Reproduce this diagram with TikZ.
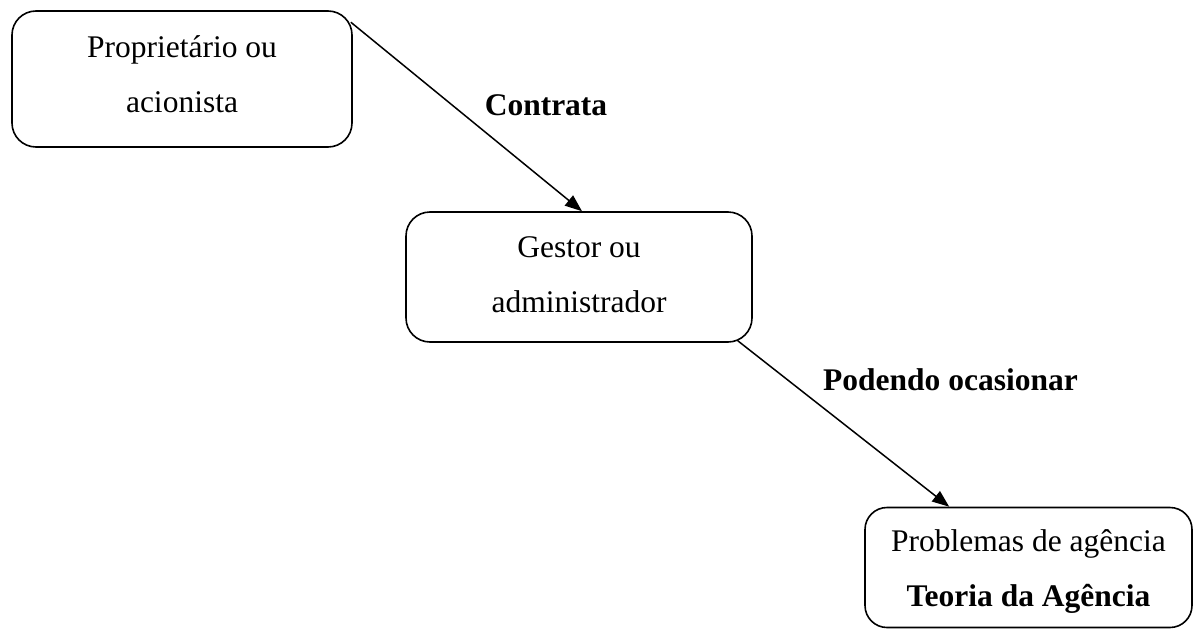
\documentclass[tikz,border=0pt]{standalone}
\usepackage{fontspec}
\setmainfont{Liberation Serif}
\usetikzlibrary{arrows.meta}
\begin{document}
\begin{tikzpicture}[x=1pt,y=-1pt,
  box/.style={draw, line width=1.6pt, rounded corners=24pt, inner sep=0pt},
  txt/.style={align=center, inner sep=0pt, font=\fontsize{31.5}{55}\selectfont},
  lbl/.style={anchor=base, inner sep=0pt, font=\fontsize{31.5}{40}\selectfont\bfseries},
  conn/.style={line width=1.5pt, -{Triangle[length=17pt,width=13pt]}}]
\useasboundingbox (0,0) rectangle (1194,629);
% boxes
\node[box, minimum width=340pt, minimum height=136pt] (b1) at (182,79) {};
\node[box, minimum width=346pt, minimum height=130pt] (b2) at (579,277) {};
\node[box, minimum width=327pt, minimum height=120pt, rounded corners=22pt] (b3) at (1028.5,567.5) {};
% texts
\node[txt] (t1) at (182,73.5) {\strut Proprietário ou\\\strut acionista};
\node[txt] (t2) at (579,273.5) {\strut Gestor ou\\\strut administrador};
\node[txt] (t3) at (1028.5,567.5) {\strut Problemas de agência\\\strut\textbf{Teoria da Agência}};
% connectors
\draw[conn] ([xshift=-2pt,yshift=-12pt]b1.north east) -- ([xshift=3pt]b2.north);
\draw[conn] ([xshift=-15pt,yshift=2pt]b2.south east) -- ([xshift=85pt]b3.north west);
% labels
\node[lbl] (l1) at (546,115) {Contrata};
\node[lbl] (l2) at (950.5,390) {Podendo ocasionar};
\end{tikzpicture}
\end{document}
